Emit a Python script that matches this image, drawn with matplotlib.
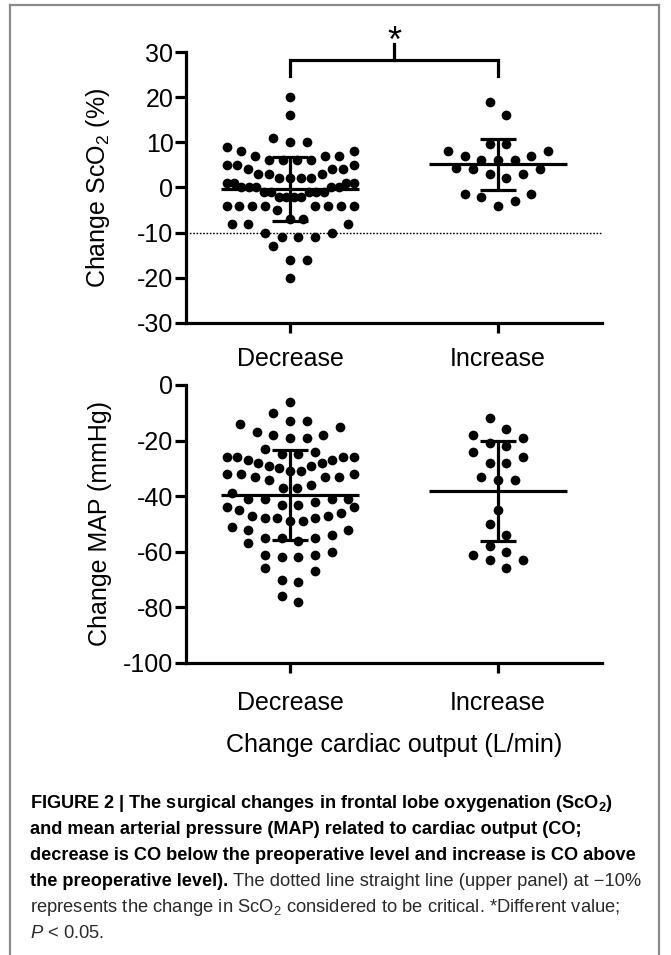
import numpy as np
import matplotlib
matplotlib.use("Agg")
import matplotlib.pyplot as plt
from matplotlib.lines import Line2D

# ---------------- data ----------------
groups = ["Decrease", "Increase"]

sco2_decrease = [20, 16, 11, 10, 10, 9,
                 8, 8, 7, 7, 7, 6, 6, 6, 6, 5, 5, 5,
                 4, 4, 4, 3, 3, 3, 2, 2, 2, 2, 1, 1, 1, 1,
                 0, 0, 0, 0, 0, -1, -1, -1, -1, -1, -2, -2, -2, -2,
                 -4, -4, -4, -4, -4, -4, -4, -4, -5, -7, -7,
                 -8, -8, -8, -10, -10, -11, -11, -11,
                 -13, -16, -16, -20]
sco2_increase = [19, 16, 9.6, 9.6, 8, 8, 7, 7, 6, 6, 6, 4.4, 4, 4,
                 3, 3, 2, -1.4, -1.4, -2, -3, -4.2]
sco2_mean = [-0.4, 5.1]
sco2_sd = [7.1, 5.7]

map_decrease = [-6, -10, -13, -14, -13, -15, -17, -18, -19, -19, -18,
                -23, -25, -26, -26, -27, -27, -26, -26, -25, -24,
                -28, -29, -30, -31, -32, -33, -33, -34, -33, -32, -32, -31, -29, -28,
                -36, -37, -39, -37, -41, -41, -41, -41,
                -43, -44, -45, -47, -48, -48, -48, -47, -46, -44, -43, -42,
                -49, -52, -54, -55, -55, -55, -52, -51, -49,
                -56, -57, -60, -61, -62, -62, -61,
                -67, -66, -71, -70, -78, -76]
map_increase = [-12, -16, -18, -19, -21, -22, -24, -26, -28, -28, -33,
                -34, -34, -45, -50, -54, -58, -60, -61, -63, -63, -66]
map_mean = [-39.5, -38.0]
map_sd = [16.2, 18.0]

sco2_ticks = [-30, -20, -10, 0, 10, 20, 30]
map_ticks = [-100, -80, -60, -40, -20, 0]
critical_level = -10
sig_label = "*"

# ---------------- style ----------------
W, H = 671, 955
plt.rcParams["font.family"] = ["Liberation Sans", "DejaVu Sans"]
plt.rcParams["mathtext.fontset"] = "custom"
plt.rcParams["mathtext.rm"] = "Liberation Sans"
plt.rcParams["mathtext.it"] = "Liberation Sans:italic"
plt.rcParams["mathtext.bf"] = "Liberation Sans:bold"

fig = plt.figure(figsize=(W / 100, H / 100), dpi=100)

def fx(px):
    return px / W

def fy(py):
    return 1 - py / H

LW = 2.3
TICK_FS = 18

def column_x(ax, xc, vals, bin_px=16.0, dmax=16.7, wmax=127.0):
    """Prism-like scatter layout: group close values into rows, spread each
    row symmetrically, lowest value in the middle."""
    T = ax.transData
    vals = np.asarray(vals, float)
    ypx = T.transform(np.column_stack([np.full(len(vals), xc), vals]))[:, 1]
    order = np.argsort(ypx, kind="stable")
    bins, cur, start = [], [], None
    for idx in order:
        if start is None or ypx[idx] - start >= bin_px:
            if cur:
                bins.append(cur)
            cur, start = [idx], ypx[idx]
        else:
            cur.append(idx)
    if cur:
        bins.append(cur)
    xs = np.zeros(len(vals))
    for b in bins:
        n = len(b)
        s = dmax if n < 2 else min(dmax, wmax / (n - 1))
        slots = []
        if n % 2:
            slots.append(0.0)
            k = 1
            while len(slots) < n:
                slots += [k * s, -k * s]
                k += 1
        else:
            k = 0.5
            while len(slots) < n:
                slots += [k * s, -k * s]
                k += 1
        for idx, sl in zip(b, slots[:n]):
            xs[idx] = sl
    ppx = T.transform((1, 0))[0] - T.transform((0, 0))[0]
    return xc + xs / ppx

def panel(rect, datasets, means, sds, ylim, yticks, ylabel, xpad):
    ax = fig.add_axes(rect)
    ax.set_xlim(-0.5, 1.5)
    ax.set_ylim(*ylim)
    for s in ("top", "right"):
        ax.spines[s].set_visible(False)
    for s in ("left", "bottom"):
        ax.spines[s].set_linewidth(LW)
    ax.set_yticks(yticks)
    ax.set_yticklabels([str(t) for t in yticks])
    ax.set_xticks([0, 1])
    ax.set_xticklabels(groups)
    ax.tick_params(axis="y", length=8, width=LW, pad=1, labelsize=TICK_FS)
    ax.tick_params(axis="x", length=7, width=LW, pad=xpad, labelsize=TICK_FS)
    ax.set_ylabel(ylabel, fontsize=TICK_FS)
    ax.yaxis.set_label_coords(-0.178, 0.5)
    for i, vals in enumerate(datasets):
        xs = column_x(ax, i, vals)
        ax.plot(xs, vals, "o", ms=7.0, mew=0, color="black", zorder=3, clip_on=False)
        m, s = means[i], sds[i]
        ax.hlines(m, i - 0.33, i + 0.33, color="black", lw=LW, zorder=4)
        ax.vlines(i, m - s, m + s, color="black", lw=LW, zorder=4)
        ax.hlines([m - s, m + s], i - 0.085, i + 0.085, color="black", lw=LW, zorder=4)
    return ax

ax1 = panel([fx(186), fy(323), fx(602) - fx(186), fy(52) - fy(323)],
            [sco2_decrease, sco2_increase], sco2_mean, sco2_sd,
            (-30, 30), sco2_ticks, "Change ScO$_2$ (%)", 10.5)
ax1.axhline(critical_level, color="black", lw=1.0, ls=(0, (1.2, 1.2)), zorder=1)
# significance bracket
ax1.plot([0, 0, 1, 1], [24.7, 28.3, 28.3, 24.7], color="black", lw=LW,
         clip_on=False, solid_joinstyle="miter")
ax1.plot([0.5, 0.5], [28.3, 31.7], color="black", lw=LW, clip_on=False)
ax1.text(0.5, 30.0, sig_label, ha="center", va="baseline", fontsize=26,
         clip_on=False)

ax2 = panel([fx(186), fy(663), fx(602) - fx(186), fy(385) - fy(663)],
            [map_decrease, map_increase], map_mean, map_sd,
            (-100, 0), map_ticks, "Change MAP (mmHg)", 13)
ax2.set_xlabel("Change cardiac output (L/min)", fontsize=TICK_FS, labelpad=13)

# ---------------- frame ----------------
fc = "#8a8a8a"
fig.add_artist(Line2D([fx(10), fx(10)], [0, fy(5)], transform=fig.transFigure, color=fc, lw=1.6))
fig.add_artist(Line2D([fx(659), fx(659)], [0, fy(5)], transform=fig.transFigure, color=fc, lw=1.6))
fig.add_artist(Line2D([fx(10), fx(659)], [fy(5), fy(5)], transform=fig.transFigure, color=fc, lw=1.6))

# ---------------- caption ----------------
bold_kw = dict(family=["Liberation Sans"], fontweight="bold", fontsize=13.1,
               color="black", va="baseline")
reg_kw = dict(family=["Liberation Sans"], fontsize=13.2, color="#2a2a2a", va="baseline")
x0 = fx(30)
base = [808, 834, 860, 886, 912, 938]
fig.text(x0, fy(base[0]), "FIGURE 2 | The surgical changes in frontal lobe oxygenation (ScO$_\\mathbf{2}$)", **bold_kw)
fig.text(x0, fy(base[1]), "and mean arterial pressure (MAP) related to cardiac output (CO;", **bold_kw)
fig.text(x0, fy(base[2]), "decrease is CO below the preoperative level and increase is CO above", **bold_kw)
t4 = fig.text(x0, fy(base[3]), "the preoperative level).", **bold_kw)
r = fig.canvas.get_renderer()
bb = t4.get_window_extent(r)
fig.text(fx(bb.x1 + 5), fy(base[3]), "The dotted line straight line (upper panel) at \u221210%", **reg_kw)
fig.text(x0, fy(base[4]), "represents the change in ScO$_2$ considered to be critical. *Different value;", **reg_kw)
fig.text(x0, fy(base[5]), "$P$ < 0.05.", **reg_kw)

fig.savefig("out.png", dpi=100)
